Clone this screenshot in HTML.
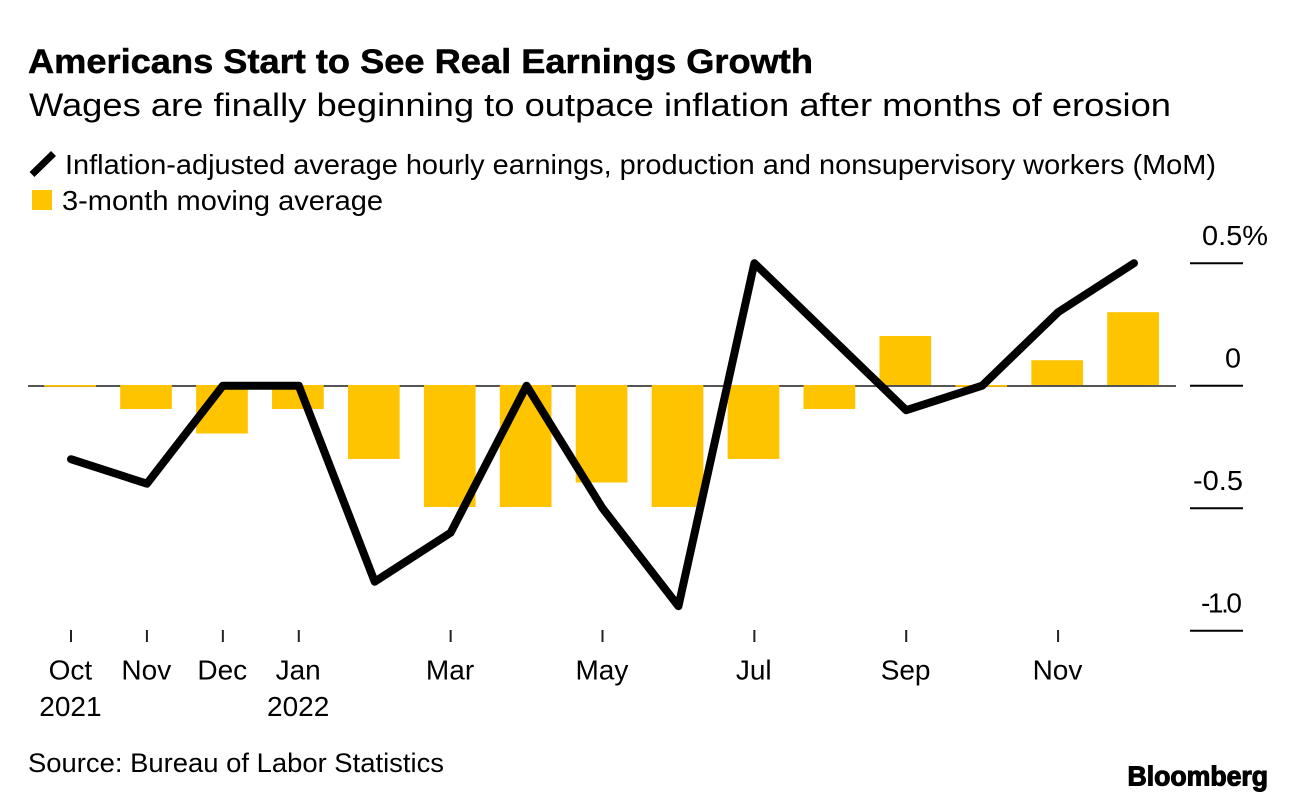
<!DOCTYPE html>
<html lang="en">
<head>
<meta charset="utf-8">
<title>Americans Start to See Real Earnings Growth</title>
<style>
html,body{margin:0;padding:0;background:#fff;}
svg{display:block;}
text{font-family:"Liberation Sans",sans-serif;fill:#000;}
</style>
</head>
<body>
<svg id="chart" xmlns="http://www.w3.org/2000/svg" width="1296" height="802" viewBox="0 0 1296 802">
  <rect x="0" y="0" width="1296" height="802" fill="#fff"/>
  <text x="28" y="73" font-size="34.5" font-weight="700" stroke="#000" stroke-width="0.5" textLength="785" lengthAdjust="spacingAndGlyphs">Americans Start to See Real Earnings Growth</text>
  <text x="29" y="116" font-size="32" textLength="1142" lengthAdjust="spacingAndGlyphs">Wages are finally beginning to outpace inflation after months of erosion</text>
  <line x1="32" y1="174.5" x2="53.5" y2="153.5" stroke="#000" stroke-width="7"/>
  <text x="65" y="174" font-size="27.5" textLength="1151" lengthAdjust="spacingAndGlyphs">Inflation-adjusted average hourly earnings, production and nonsupervisory workers (MoM)</text>
  <rect x="32" y="190" width="20" height="20" fill="#ffc400"/>
  <text x="62" y="210" font-size="27.5" textLength="321" lengthAdjust="spacingAndGlyphs">3-month moving average</text>
  <g id="zero"></g>
  <g id="bars"></g>
  <g id="yaxis"></g>
  <g id="xaxis"></g>
  <g id="lines"></g>
  <text x="28" y="772" font-size="26.5" textLength="416" lengthAdjust="spacingAndGlyphs">Source: Bureau of Labor Statistics</text>
  <text x="1127.5" y="785.5" font-size="27.5" font-weight="700" stroke="#000" stroke-width="1.1" textLength="140.5" lengthAdjust="spacingAndGlyphs">Bloomberg</text>
</svg>
<script>
const months = ["Oct 2021","Nov 2021","Dec 2021","Jan 2022","Feb 2022","Mar 2022","Apr 2022","May 2022","Jun 2022","Jul 2022","Aug 2022","Sep 2022","Oct 2022","Nov 2022","Dec 2022"];
const earningsMoM = [-0.3,-0.4,0,0,-0.8,-0.6,0,-0.5,-0.9,0.5,0.2,-0.1,0,0.3,0.5];
const movingAverage = [-0.005,-0.1,-0.2,-0.1,-0.304,-0.5,-0.5,-0.4,-0.5,-0.304,-0.1,0.203,-0.005,0.104,0.3];
const yTicks = [0.5,0,-0.5,-1.0];
const yTickLabels = ["0.5%","0","-0.5","-1.0"];
const xTickMonths = ["Oct 2021","Nov 2021","Dec 2021","Jan 2022","Mar 2022","May 2022","Jul 2022","Sep 2022","Nov 2022"];
const xTickLabels = ["Oct","Nov","Dec","Jan","Mar","May","Jul","Sep","Nov"];
const xTickYears = ["2021","","","2022","","","","",""];

const SVG_NS = "http://www.w3.org/2000/svg";
function xScale(i){ return 71 + i * (1134 - 71) / 14; }
function yScale(v){ return 385.7 - v * 245; }
function make(tag, attrs, parent){
  const el = document.createElementNS(SVG_NS, tag);
  for (const k in attrs) el.setAttribute(k, attrs[k]);
  parent.appendChild(el);
  return el;
}
const zeroG = document.getElementById("zero");
const barsG = document.getElementById("bars");
const yG = document.getElementById("yaxis");
const xG = document.getElementById("xaxis");
const lineG = document.getElementById("lines");

const zeroLine = make("line", {x1:28, x2:1176, y1:yScale(0) + 0.3, y2:yScale(0) + 0.3, stroke:"#555", "stroke-width":2}, zeroG);



const barWidth = 51.7;
movingAverage.forEach(function(v, i){
  const y0 = yScale(0) - 0.7;
  const y1 = v < 0 ? yScale(v) - 1.2 : yScale(v);
  const top = Math.min(y0, y1);
  const h = Math.max(Math.abs(y1 - y0), 1.8);
  const bar = make("rect", {x:xScale(i) - 0.9 - barWidth / 2, y:top, width:barWidth, height:h, fill:"#ffc400"}, barsG);
  
  
});

yTicks.forEach(function(v, i){
  const y = yScale(v);
  const tick = make("line", {x1:1190, x2:1243, y1:y, y2:y, stroke:"#000", "stroke-width":2}, yG);
  
  
  const text = yTickLabels[i];
  const isFirst = i === 0;
  const isZero = text === "0";
  const hasOne = text.indexOf("1") >= 0;
  const attrs = {x:isFirst ? 1202 : (isZero ? 1225 : (hasOne ? 1201 : 1193)), y:y - 18, "font-size":28};
  attrs.textLength = isFirst ? 66 : (isZero ? 16 : (hasOne ? 41 : 50));
  attrs.lengthAdjust = hasOne ? "spacing" : "spacingAndGlyphs";
  const label = make("text", attrs, yG);
  label.textContent = text;
  
  
});

xTickMonths.forEach(function(m, i){
  const x = xScale(months.indexOf(m));
  const tick = make("line", {x1:x, x2:x, y1:630, y2:642, stroke:"#222", "stroke-width":2}, xG);
  
  
  const label = make("text", {x:x - 0.6, y:679.5, "font-size":28, "text-anchor":"middle"}, xG);
  label.textContent = xTickLabels[i];
  
  
  if (xTickYears[i]) {
    const year = make("text", {x:x - 0.6, y:716, "font-size":28, "text-anchor":"middle"}, xG);
    year.textContent = xTickYears[i];
    
    
  }
});

const points = earningsMoM.map(function(v, i){ return xScale(i) + "," + yScale(v); }).join(" ");
const line = make("polyline", {points:points, fill:"none", stroke:"#000", "stroke-width":8, "stroke-linejoin":"round", "stroke-linecap":"round"}, lineG);


</script>
</body>
</html>
